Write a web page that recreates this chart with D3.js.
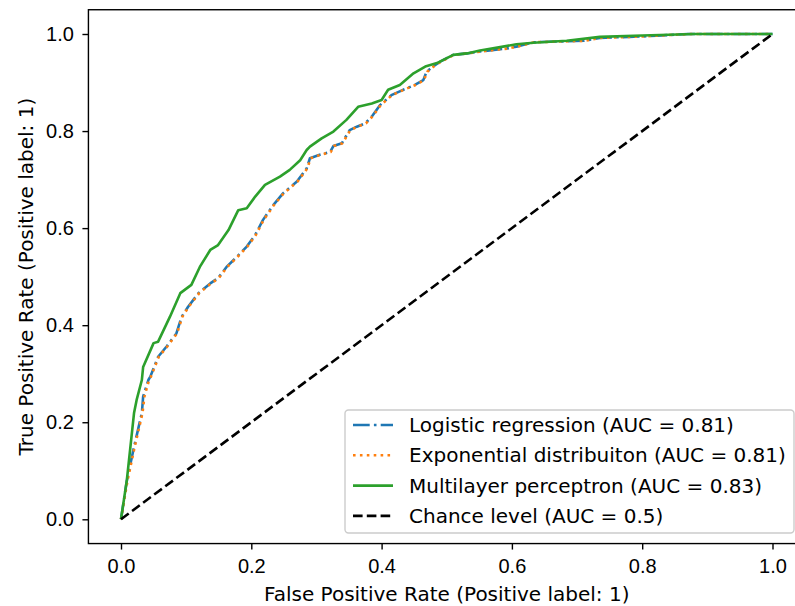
<!DOCTYPE html>
<html>
<head>
<meta charset="utf-8">
<script src="https://d3js.org/d3.v7.min.js"></script>
<style>
    body { margin: 0; background: #fff; }
    svg { display: block; font-family: "DejaVu Sans", sans-serif; }
    .tick text { font-size: 20px; fill: #000; }
</style>
</head>
<body>
<div id="chart"></div>
<script>
// ROC points
var lrFpr  = [0, 0.009, 0.019, 0.032, 0.034, 0.042, 0.045, 0.057, 0.070, 0.085, 0.093, 0.103, 0.119, 0.137, 0.149, 0.162, 0.178, 0.193, 0.206, 0.218, 0.234, 0.249, 0.270, 0.285, 0.290, 0.305, 0.321, 0.326, 0.339, 0.351, 0.362, 0.375, 0.385, 0.398, 0.415, 0.433, 0.451, 0.464, 0.469, 0.479, 0.490, 0.510, 0.531, 0.551, 0.592, 0.607, 0.633, 0.710, 0.735, 0.800, 0.870, 1];
var lrTpr  = [0, 0.080, 0.143, 0.219, 0.253, 0.287, 0.294, 0.335, 0.356, 0.383, 0.417, 0.438, 0.466, 0.486, 0.497, 0.520, 0.541, 0.562, 0.586, 0.617, 0.648, 0.672, 0.696, 0.723, 0.744, 0.751, 0.757, 0.769, 0.775, 0.802, 0.809, 0.816, 0.830, 0.854, 0.874, 0.885, 0.895, 0.905, 0.922, 0.933, 0.943, 0.957, 0.960, 0.964, 0.970, 0.974, 0.983, 0.986, 0.992, 0.995, 1.0, 1];
var expFpr = [0, 0.010, 0.020, 0.033, 0.036, 0.043, 0.046, 0.058, 0.071, 0.086, 0.094, 0.104, 0.120, 0.138, 0.150, 0.163, 0.179, 0.194, 0.207, 0.219, 0.235, 0.250, 0.271, 0.286, 0.291, 0.306, 0.322, 0.327, 0.340, 0.352, 0.363, 0.376, 0.386, 0.399, 0.416, 0.434, 0.452, 0.465, 0.470, 0.480, 0.491, 0.511, 0.532, 0.552, 0.593, 0.608, 0.634, 0.711, 0.736, 0.801, 0.872, 1];
var expTpr = [0, 0.080, 0.143, 0.219, 0.253, 0.287, 0.294, 0.335, 0.356, 0.383, 0.417, 0.438, 0.466, 0.486, 0.497, 0.520, 0.541, 0.562, 0.586, 0.617, 0.648, 0.672, 0.696, 0.723, 0.744, 0.751, 0.757, 0.769, 0.775, 0.802, 0.809, 0.816, 0.830, 0.854, 0.874, 0.885, 0.895, 0.905, 0.922, 0.933, 0.943, 0.957, 0.960, 0.964, 0.970, 0.974, 0.983, 0.986, 0.992, 0.995, 1.0, 1];
var mlpFpr = [0, 0.009, 0.020, 0.024, 0.032, 0.034, 0.050, 0.057, 0.075, 0.091, 0.108, 0.121, 0.137, 0.149, 0.165, 0.180, 0.193, 0.206, 0.221, 0.244, 0.259, 0.275, 0.285, 0.290, 0.308, 0.326, 0.346, 0.364, 0.385, 0.400, 0.410, 0.428, 0.449, 0.467, 0.485, 0.510, 0.531, 0.551, 0.582, 0.607, 0.633, 0.684, 0.735, 0.800, 0.880, 1];
var mlpTpr = [0, 0.081, 0.219, 0.246, 0.287, 0.314, 0.363, 0.366, 0.417, 0.466, 0.483, 0.520, 0.555, 0.565, 0.596, 0.637, 0.641, 0.665, 0.689, 0.706, 0.720, 0.740, 0.761, 0.768, 0.785, 0.799, 0.823, 0.850, 0.857, 0.864, 0.885, 0.895, 0.919, 0.933, 0.940, 0.957, 0.960, 0.966, 0.973, 0.979, 0.982, 0.986, 0.994, 0.997, 1.0, 1];
var chanceFpr = [0, 1];
var chanceTpr = [0, 1];

var seriesNames = ["Logistic regression (AUC = 0.81)", "Exponential distribuiton (AUC = 0.81)", "Multilayer perceptron (AUC = 0.83)", "Chance level (AUC = 0.5)"];
var ticks = [0, 0.2, 0.4, 0.6, 0.8, 1.0];

var width = 795, height = 606;

var x = d3.scaleLinear().domain([0, 1]).range([121, 772.5]);
var y = d3.scaleLinear().domain([0, 1]).range([519.3, 34]);

var series = [
    {name: seriesNames[0], fpr: lrFpr, tpr: lrTpr, color: "#1f77b4", dash: "16.7,4.2,2.6,4.2"},
    {name: seriesNames[1], fpr: expFpr, tpr: expTpr, color: "#ff7f0e", dash: "2.6,4.3"},
    {name: seriesNames[2], fpr: mlpFpr, tpr: mlpTpr, color: "#2ca02c", dash: null},
    {name: seriesNames[3], fpr: chanceFpr, tpr: chanceTpr, color: "#000000", dash: "9.6,4.2"}
];

var svg = d3.select("#chart").append("svg")
    .attr("width", width)
    .attr("height", height);

var x0 = x(-0.05), x1 = x(1.05), y0 = y(-0.05), y1 = y(1.05);

// curves
var line = d3.line().x(d => x(d[0])).y(d => y(d[1]));
series.forEach(function(s) {
    var pts = s.fpr.map((f, i) => [f, s.tpr[i]]);
    svg.append("path")
        .attr("d", line(pts))
        .attr("fill", "none")
        .attr("stroke", s.color)
        .attr("stroke-width", 2.6)
        .attr("stroke-dasharray", s.dash)
        .attr("stroke-linejoin", "round");
});

// axes
svg.append("g")
    .attr("transform", "translate(0," + y0 + ")")
    .call(d3.axisBottom(x).tickValues(ticks).tickFormat(d3.format(".1f")).tickSize(6).tickPadding(9))
    .call(g => g.select(".domain").remove())
    .call(g => g.selectAll(".tick line").attr("stroke-width", 1.4));

svg.append("g")
    .attr("transform", "translate(" + x0 + ",0)")
    .call(d3.axisLeft(y).tickValues(ticks).tickFormat(d3.format(".1f")).tickSize(6).tickPadding(8.5))
    .call(g => g.select(".domain").remove())
    .call(g => g.selectAll(".tick line").attr("stroke-width", 1.4));

// frame
svg.append("rect")
    .attr("x", x0).attr("y", y1)
    .attr("width", x1 - x0).attr("height", y0 - y1)
    .attr("fill", "none")
    .attr("stroke", "#000")
    .attr("stroke-width", 1.4);

// axis labels
svg.append("text")
    .attr("x", (x(0) + x(1)) / 2)
    .attr("y", 601)
    .attr("text-anchor", "middle")
    .attr("font-size", 20)
    .text("False Positive Rate (Positive label: 1)");

svg.append("text")
    .attr("transform", "translate(33," + (y(0) + y(1)) / 2 + ") rotate(-90)")
    .attr("text-anchor", "middle")
    .attr("font-size", 20)
    .text("True Positive Rate (Positive label: 1)");

// legend
var legend = svg.append("g");
legend.append("rect")
    .attr("x", 345).attr("y", 410)
    .attr("width", 449).attr("height", 123)
    .attr("rx", 3.5)
    .attr("fill", "rgba(255,255,255,0.8)")
    .attr("stroke", "#cccccc")
    .attr("stroke-width", 1.4);

series.forEach(function(s, i) {
    var ly = 425 + i * 30.3;
    legend.append("line")
        .attr("x1", 353).attr("x2", 393)
        .attr("y1", ly).attr("y2", ly)
        .attr("stroke", s.color)
        .attr("stroke-width", 2.6)
        .attr("stroke-dasharray", s.dash);
    legend.append("text")
        .attr("x", 409).attr("y", ly)
        .attr("dy", "0.35em")
        .attr("font-size", 20)
        .text(s.name);
});
</script>
</body>
</html>
